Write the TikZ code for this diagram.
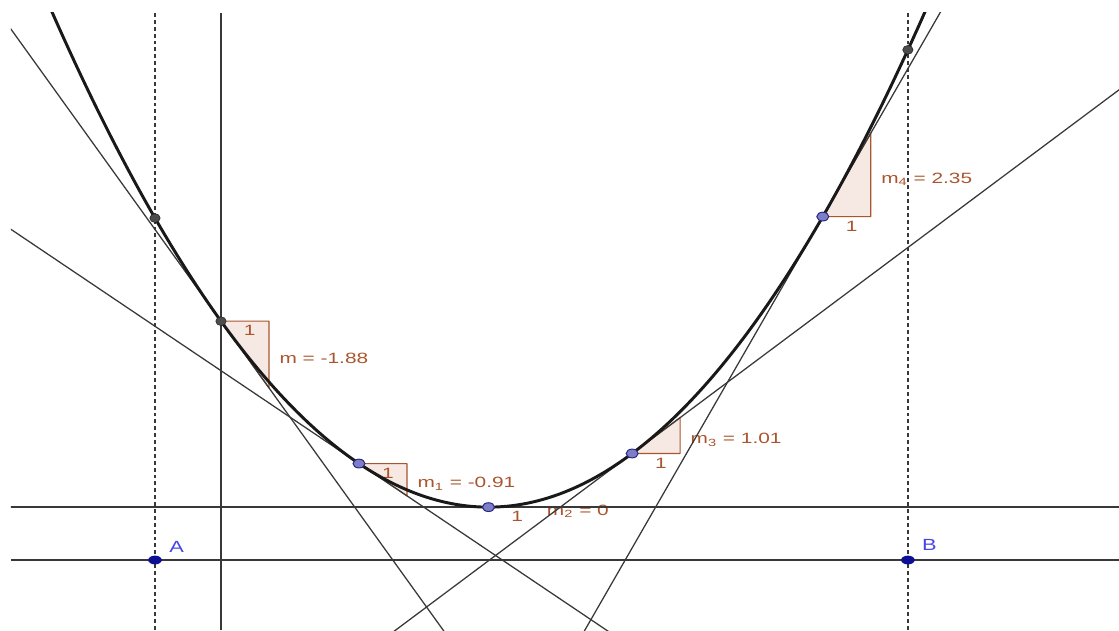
\documentclass[tikz,border=0pt]{standalone}
\usepackage{fontspec}
\setmainfont{Liberation Sans}
\usetikzlibrary{positioning}

\definecolor{slopebrown}{RGB}{170,85,45}
\definecolor{slopefill}{RGB}{246,232,226}
\definecolor{ptblue}{RGB}{125,125,200}
\definecolor{ptedge}{RGB}{40,40,130}
\definecolor{axisblue}{RGB}{15,15,150}
\definecolor{labelblue}{RGB}{70,70,230}

\begin{document}
\begin{tikzpicture}[
  x=1.2cm, y=0.8875cm,
  declare function={f(\x)=0.1687*(\x-5.572)*(\x-5.572)+1.49; df(\x)=0.3374*(\x-5.572);},
  curve/.style={line width=2.1pt, black!90},
  thinline/.style={line width=0.9pt, black!78},
  axisline/.style={line width=1pt, black!78},
  dashline/.style={line width=1pt, black!78, dash pattern=on 2.8pt off 2.1pt},
  slopebox/.style={draw=slopebrown, fill=slopefill, line width=0.8pt, line join=round},
  slopelabel/.style={text=slopebrown, font=\fontsize{10.6}{12}\selectfont, xscale=1.4, inner sep=1pt},
  ptlabel/.style={text=labelblue, font=\fontsize{11.5}{13}\selectfont, xscale=1.35, inner sep=0pt}
]
\useasboundingbox (-4.604,-1.972) rectangle (18.708,15.775);

\coordinate (bot) at (0,-1.972);
\coordinate (top) at (0,15.41);
\coordinate (A) at (-1.375,0);
\coordinate (B) at (14.31,0);
\coordinate (QA) at (-1.375,{f(-1.375)});
\coordinate (QB) at (14.31,{f(14.31)});
\coordinate (P0) at (0,{f(0)});
\coordinate (P1) at (2.875,{f(2.875)});
\coordinate (P2) at (5.572,{f(5.572)});
\coordinate (P3) at (8.565,{f(8.565)});
\coordinate (P4) at (12.537,{f(12.537)});

\begin{scope}
\clip (-4.375,-1.972) rectangle (18.708,15.41);

% slope triangles
\foreach \u/\m/\n/\lab in {0/-1.88/0/{m = -1.88},
                            2.875/-0.91/1/{m\textsubscript{1} = -0.91},
                            5.572/0/2/{m\textsubscript{2} = 0},
                            8.565/1.01/3/{m\textsubscript{3} = 1.01},
                            12.537/2.35/4/{m\textsubscript{4} = 2.35}}{
  \filldraw[slopebox] (\u,{f(\u)}) -- ++(1,0) -- ++(0,\m) -- cycle;
  \node[slopelabel, below, yshift=-2pt] (one\n) at (\u+0.6,{f(\u)}) {1};
  \node[slopelabel, anchor=west, yshift=-3pt] (slope\n) at (\u+1.17,{f(\u)+\m/2}) {\lab};
}

% axes
\draw[axisline] (-4.375,0) -- (18.708,0);
\draw[axisline] (bot) -- (top);
\draw[dashline] (A |- bot) -- (A |- top);
\draw[dashline] (B |- bot) -- (B |- top);

% tangents
\foreach \u in {0,2.875,5.572,8.565,12.537}
  \draw[thinline] (-5,{f(\u)+df(\u)*(-5-\u)}) -- (19,{f(\u)+df(\u)*(19-\u)});

\draw[curve, domain=-3.7:14.8, samples=200] plot (\x,{f(\x)});
\end{scope}

% points
\foreach \p in {QA,QB,P0}
  \filldraw[fill=black!70, draw=black!85] (\p) ellipse [x radius=0.13cm, y radius=0.11cm];
\foreach \p in {P1,P2,P3,P4}
  \filldraw[fill=ptblue, draw=ptedge, line width=0.7pt] (\p) ellipse [x radius=0.15cm, y radius=0.11cm];
\foreach \p in {A,B}
  \fill[axisblue] (\p) ellipse [x radius=0.17cm, y radius=0.11cm];

\node[ptlabel, xshift=0.4cm, yshift=0.33cm] (labA) at (A) {A};
\node[ptlabel, xshift=0.4cm, yshift=0.37cm] (labB) at (B) {B};
\end{tikzpicture}
\end{document}
